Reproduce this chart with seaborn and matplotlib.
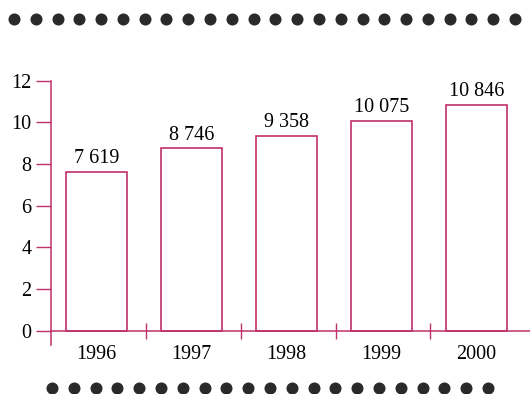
import matplotlib
matplotlib.use("Agg")
import matplotlib.pyplot as plt
import numpy as np
import pandas as pd
import seaborn as sns

# Annual figures (thousands), shown on a 0-12 scale
years = ["1996", "1997", "1998", "1999", "2000"]
values = [7.619, 8.746, 9.358, 10.075, 10.846]
value_labels = ["7 619", "8 746", "9 358", "10 075", "10 846"]
y_ticks = [0, 2, 4, 6, 8, 10, 12]

LINE = "#c0306a"
DOT = "#2a2a2a"
FS = 14.5

sns.set_theme(style="white")
plt.rcParams["font.family"] = ["Liberation Serif", "DejaVu Serif"]

W, H = 530, 394
fig = plt.figure(figsize=(W / 100, H / 100), dpi=100)

# main chart area
ax = fig.add_axes([51 / W, (H - 345) / H, 1 - 51 / W, (345 - 80.7) / H])
df = pd.DataFrame({"year": years, "value": values})
sns.barplot(data=df, x="year", y="value", ax=ax, width=0.64,
            color="white", edgecolor=LINE, linewidth=1.2, saturation=1)

for i, (v, lab) in enumerate(zip(values, value_labels)):
    ax.text(i, v + 0.17, lab, ha="center", va="bottom", fontsize=FS, color="black")

x_left = -0.479
ax.set_xlim(x_left, 4.563)
ax.set_ylim(-0.69, 12.0)
ax.set_xlabel("")
ax.set_ylabel("")

for s in ["top", "right"]:
    ax.spines[s].set_visible(False)
ax.spines["left"].set_color(LINE)
ax.spines["left"].set_linewidth(1.1)
ax.spines["left"].set_position(("data", x_left))
ax.spines["bottom"].set_color(LINE)
ax.spines["bottom"].set_linewidth(1.1)
ax.spines["bottom"].set_position(("data", 0))

ax.set_yticks(y_ticks)
ax.set_yticklabels([str(t) for t in y_ticks])
ax.tick_params(axis="y", direction="out", length=11, width=1.0, color=LINE,
               labelsize=FS, pad=3, left=True)
ax.set_xticks(range(len(years)))
ax.set_xticklabels(years)
ax.tick_params(axis="x", which="major", length=0, labelsize=FS, pad=10)
ax.set_xticks([0.52, 1.52, 2.52, 3.51], minor=True)
ax.tick_params(axis="x", which="minor", direction="inout", length=11,
               width=1.0, color=LINE, bottom=True)
for lbl in ax.get_yticklabels() + ax.get_xticklabels():
    lbl.set_color("black")

# decorative dotted rules above and below the chart
deco = fig.add_axes([0, 0, 1, 1], zorder=-1)
deco.set_xlim(0, W)
deco.set_ylim(H, 0)
deco.axis("off")
top_x = np.linspace(14, 515, 24)
bot_x = np.linspace(52, 488, 21)
deco.scatter(top_x, np.full_like(top_x, 19), s=75, color=DOT, linewidths=0)
deco.scatter(bot_x, np.full_like(bot_x, 388), s=75, color=DOT, linewidths=0)

fig.savefig("out.png", dpi=100, facecolor="white")
